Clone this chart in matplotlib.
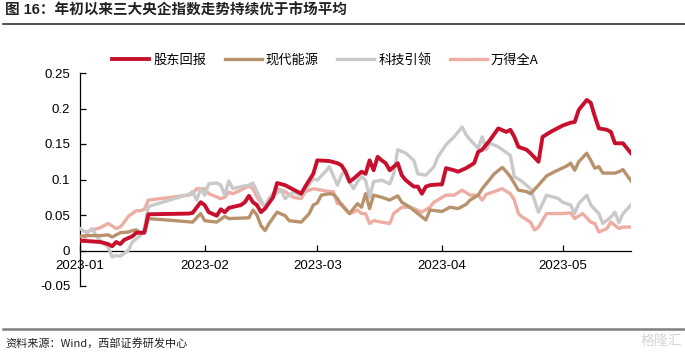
import matplotlib
matplotlib.use("Agg")
import matplotlib.pyplot as plt
import pandas as pd
from matplotlib.lines import Line2D

plt.rcParams['font.family'] = ['Liberation Sans', 'Noto Sans CJK SC']

title = "图 16：年初以来三大央企指数走势持续优于市场平均"
source = "资料来源：Wind，西部证券研发中心"
names = ["股东回报", "现代能源", "科技引领", "万得全A"]
colors = ["#C8102E", "#B8926C", "#C9C9C9", "#EDADA3"]

tick_dates = ["01-03", "02-03", "03-03", "04-03", "05-03"]
tick_labels = ["2023-01", "2023-02", "2023-03", "2023-04", "2023-05"]

red_dates = ["01-03", "01-08", "01-10", "01-11", "01-12", "01-13", "01-14", "01-16", "01-17", "01-19", "01-20", "01-30", "01-31",
             "02-02", "02-03", "02-04", "02-06", "02-07", "02-08", "02-09", "02-12", "02-13", "02-14", "02-15", "02-16", "02-17",
             "02-18", "02-20", "02-21", "02-23", "02-25", "02-27", "02-28",
             "03-02", "03-03", "03-06", "03-08", "03-09", "03-10", "03-11", "03-12", "03-13", "03-14", "03-15", "03-16", "03-17",
             "03-18", "03-19", "03-20", "03-21", "03-23", "03-24", "03-25", "03-27", "03-28", "03-29", "03-30", "03-31",
             "04-02", "04-03", "04-04", "04-06", "04-07", "04-09", "04-11", "04-12", "04-13", "04-15", "04-17", "04-19", "04-20",
             "04-21", "04-22", "04-24", "04-25", "04-27", "04-28", "04-30",
             "05-03", "05-05", "05-06", "05-07", "05-09", "05-10", "05-11", "05-12", "05-14", "05-15", "05-16", "05-18", "05-20"]
red_vals = [0.014, 0.012, 0.009, 0.006, 0.012, 0.009, 0.015, 0.020, 0.025, 0.025, 0.051, 0.052, 0.053,
            0.068, 0.064, 0.054, 0.049, 0.058, 0.054, 0.060, 0.064, 0.068, 0.077, 0.068, 0.064, 0.054,
            0.059, 0.075, 0.095, 0.092, 0.086, 0.080, 0.090,
            0.108, 0.127, 0.126, 0.123, 0.120, 0.111, 0.097, 0.101, 0.106, 0.111, 0.108, 0.127, 0.113,
            0.132, 0.127, 0.123, 0.113, 0.123, 0.106, 0.099, 0.090, 0.090, 0.080, 0.090, 0.092,
            0.093, 0.093, 0.116, 0.113, 0.111, 0.116, 0.123, 0.139, 0.142, 0.156, 0.172, 0.167, 0.170,
            0.160, 0.146, 0.142, 0.137, 0.125, 0.160, 0.167,
            0.176, 0.180, 0.181, 0.198, 0.212, 0.208, 0.189, 0.172, 0.170, 0.167, 0.151, 0.151, 0.137]

brown_dates = ["01-03", "01-05", "01-08", "01-10", "01-11", "01-13", "01-15", "01-16", "01-17", "01-18", "01-19", "01-20", "01-31",
               "02-02", "02-03", "02-06", "02-08", "02-09", "02-14", "02-15", "02-16", "02-17", "02-18", "02-19", "02-21",
               "02-23", "02-24", "02-27",
               "03-01", "03-02", "03-03", "03-04", "03-06", "03-07", "03-08", "03-09", "03-11", "03-12", "03-13", "03-14",
               "03-15", "03-16", "03-17", "03-19", "03-21", "03-23", "03-24", "03-26", "03-28", "03-30", "03-31",
               "04-03", "04-05", "04-07", "04-09", "04-10", "04-12", "04-13", "04-15", "04-16", "04-18", "04-19", "04-20",
               "04-22", "04-24", "04-25", "04-27", "04-29",
               "05-01", "05-04", "05-05", "05-06", "05-07", "05-09", "05-10", "05-11", "05-12", "05-13", "05-16", "05-17",
               "05-18", "05-20"]
brown_vals = [0.020, 0.021, 0.021, 0.022, 0.019, 0.025, 0.026, 0.028, 0.029, 0.025, 0.026, 0.045, 0.040,
              0.052, 0.042, 0.040, 0.048, 0.045, 0.046, 0.057, 0.050, 0.035, 0.028, 0.038, 0.054,
              0.049, 0.042, 0.040,
              0.052, 0.064, 0.067, 0.078, 0.080, 0.079, 0.073, 0.064, 0.052, 0.059, 0.066, 0.061,
              0.080, 0.059, 0.078, 0.075, 0.071, 0.077, 0.068, 0.061, 0.052, 0.043, 0.057,
              0.055, 0.061, 0.059, 0.065, 0.071, 0.078, 0.087, 0.101, 0.108, 0.117, 0.111, 0.104,
              0.085, 0.083, 0.080, 0.092, 0.105,
              0.111, 0.119, 0.123, 0.113, 0.125, 0.137, 0.127, 0.116, 0.118, 0.109, 0.109, 0.111,
              0.114, 0.098]

grey_dates = ["01-03", "01-04", "01-05", "01-06", "01-07", "01-08", "01-10", "01-11", "01-12", "01-13", "01-15", "01-16",
              "01-18", "01-19", "01-20", "01-30", "01-31",
              "02-01", "02-02", "02-03", "02-04", "02-06", "02-07", "02-08", "02-09", "02-10", "02-12", "02-14", "02-15",
              "02-17", "02-18", "02-19", "02-22", "02-23", "02-25", "02-27", "02-28",
              "03-02", "03-03", "03-05", "03-06", "03-08", "03-09", "03-10", "03-11", "03-12", "03-13", "03-14", "03-15",
              "03-16", "03-17", "03-19", "03-21", "03-22", "03-23", "03-25", "03-27", "03-28", "03-30",
              "04-01", "04-02", "04-04", "04-06", "04-08", "04-09", "04-10", "04-12", "04-13", "04-14", "04-15", "04-17",
              "04-18", "04-20", "04-21", "04-23", "04-25", "04-26", "04-27", "04-28", "04-29",
              "05-02", "05-03", "05-05", "05-06", "05-07", "05-09", "05-10", "05-12", "05-13", "05-15", "05-16", "05-17",
              "05-18", "05-20"]
grey_vals = [0.031, 0.027, 0.026, 0.031, 0.021, 0.014, 0.005, -0.009, -0.007, -0.008, 0.000, 0.012,
             0.021, 0.031, 0.062, 0.079, 0.083,
             0.071, 0.087, 0.078, 0.094, 0.095, 0.092, 0.078, 0.098, 0.087, 0.090, 0.092, 0.095,
             0.071, 0.061, 0.073, 0.085, 0.073, 0.082, 0.078, 0.085,
             0.101, 0.099, 0.111, 0.118, 0.092, 0.106, 0.113, 0.097, 0.087, 0.097, 0.104, 0.099,
             0.075, 0.097, 0.099, 0.094, 0.108, 0.142, 0.137, 0.127, 0.108, 0.106,
             0.118, 0.132, 0.149, 0.160, 0.174, 0.163, 0.156, 0.144, 0.160, 0.142, 0.151, 0.146,
             0.142, 0.134, 0.104, 0.097, 0.087, 0.071, 0.054, 0.066, 0.078,
             0.073, 0.068, 0.064, 0.052, 0.066, 0.078, 0.064, 0.052, 0.038, 0.047, 0.054, 0.039,
             0.052, 0.064]

pink_dates = ["01-03", "01-04", "01-05", "01-08", "01-10", "01-12", "01-13", "01-14", "01-15", "01-17", "01-18", "01-19",
              "01-20", "01-30", "01-31",
              "02-01", "02-03", "02-04", "02-07", "02-08", "02-09", "02-10", "02-12", "02-14", "02-15", "02-16", "02-18",
              "02-19", "02-21", "02-23", "02-25", "02-27", "02-28",
              "03-02", "03-04", "03-06", "03-07", "03-08", "03-09", "03-11", "03-12", "03-13", "03-14", "03-15", "03-16",
              "03-17", "03-19", "03-21", "03-22", "03-24", "03-26", "03-27", "03-29", "03-31",
              "04-01", "04-04", "04-06", "04-08", "04-10", "04-12", "04-13", "04-14", "04-16", "04-18", "04-20", "04-21",
              "04-22", "04-23", "04-25", "04-26", "04-27", "04-29",
              "05-03", "05-05", "05-06", "05-08", "05-10", "05-11", "05-12", "05-14", "05-15", "05-17", "05-18", "05-20"]
pink_vals = [0.012, 0.014, 0.027, 0.032, 0.038, 0.031, 0.033, 0.040, 0.048, 0.056, 0.056, 0.058,
             0.071, 0.078, 0.080,
             0.087, 0.087, 0.080, 0.073, 0.075, 0.082, 0.080, 0.085, 0.091, 0.087, 0.075, 0.061,
             0.073, 0.087, 0.083, 0.075, 0.073, 0.083,
             0.087, 0.085, 0.083, 0.083, 0.066, 0.066, 0.052, 0.054, 0.057, 0.052, 0.052, 0.038,
             0.042, 0.040, 0.038, 0.052, 0.061, 0.061, 0.059, 0.054, 0.061,
             0.068, 0.078, 0.078, 0.085, 0.078, 0.078, 0.071, 0.079, 0.083, 0.087, 0.080, 0.071,
             0.052, 0.047, 0.040, 0.029, 0.033, 0.052,
             0.052, 0.053, 0.045, 0.052, 0.040, 0.038, 0.026, 0.031, 0.040, 0.031, 0.033, 0.033]


def to_dt(days):
    return pd.to_datetime(["2023-" + d for d in days])


series = [(red_dates, red_vals), (brown_dates, brown_vals), (grey_dates, grey_vals), (pink_dates, pink_vals)]

fig = plt.figure(figsize=(6.85, 3.53), dpi=100)
ax = fig.add_axes([80 / 685, 1 - 286 / 353, 551 / 685, 213 / 353])

widths = [2.8, 2.4, 2.4, 2.4]
zorders = [5, 4, 3, 2]
for (d, v), name, c, w, z in zip(series, names, colors, widths, zorders):
    ax.plot(to_dt(d), v, color=c, lw=w, label=name, zorder=z, solid_joinstyle="round")

ax.set_ylim(-0.05, 0.25)
ax.set_yticks([-0.05, 0, 0.05, 0.1, 0.15, 0.2, 0.25])
ax.set_yticklabels(["-0.05", "0", "0.05", "0.1", "0.15", "0.2", "0.25"])
ax.set_xlim(pd.Timestamp("2023-01-03"), pd.Timestamp("2023-05-20"))
ax.set_xticks(to_dt(tick_dates))
ax.set_xticklabels(tick_labels)

ax.spines["top"].set_visible(False)
ax.spines["right"].set_visible(False)
ax.spines["bottom"].set_position(("data", 0))
ax.spines["left"].set_linewidth(0.9)
ax.spines["bottom"].set_linewidth(0.9)
ax.tick_params(axis="y", direction="in", length=4, width=0.9, pad=7, labelsize=9.5)
ax.tick_params(axis="x", direction="in", length=4, width=0.9, pad=7, labelsize=9.5)

fig.legend(loc="center", bbox_to_anchor=(0.475, 1 - 60 / 353), ncol=4, frameon=False,
           handlelength=2.8, handletextpad=0.3, columnspacing=1.4, prop={"family": ["Noto Sans CJK SC"], "size": 9.5})

fig.text(5 / 685, 1 - 11 / 353, title, fontsize=10.5, fontweight="bold", color="#222222",
         va="center", ha="left", family=["Liberation Sans", "Noto Sans CJK SC"])
fig.add_artist(Line2D([3 / 685, 1], [1 - 24 / 353, 1 - 24 / 353], color="#333333", lw=1.2))
fig.add_artist(Line2D([3 / 685, 1], [1 - 329 / 353, 1 - 329 / 353], color="#808080", lw=1.8))
fig.text(5 / 685, 1 - 343 / 353, source, fontsize=8, color="#222222", va="center", ha="left",
         family=["Noto Sans CJK SC", "Liberation Sans"])
fig.text(682 / 685, 1 - 341 / 353, "格隆汇", fontsize=10, color="#D5D5D5", va="center", ha="right",
         family=["Noto Sans CJK SC"])

fig.savefig("out.png", dpi=100)
